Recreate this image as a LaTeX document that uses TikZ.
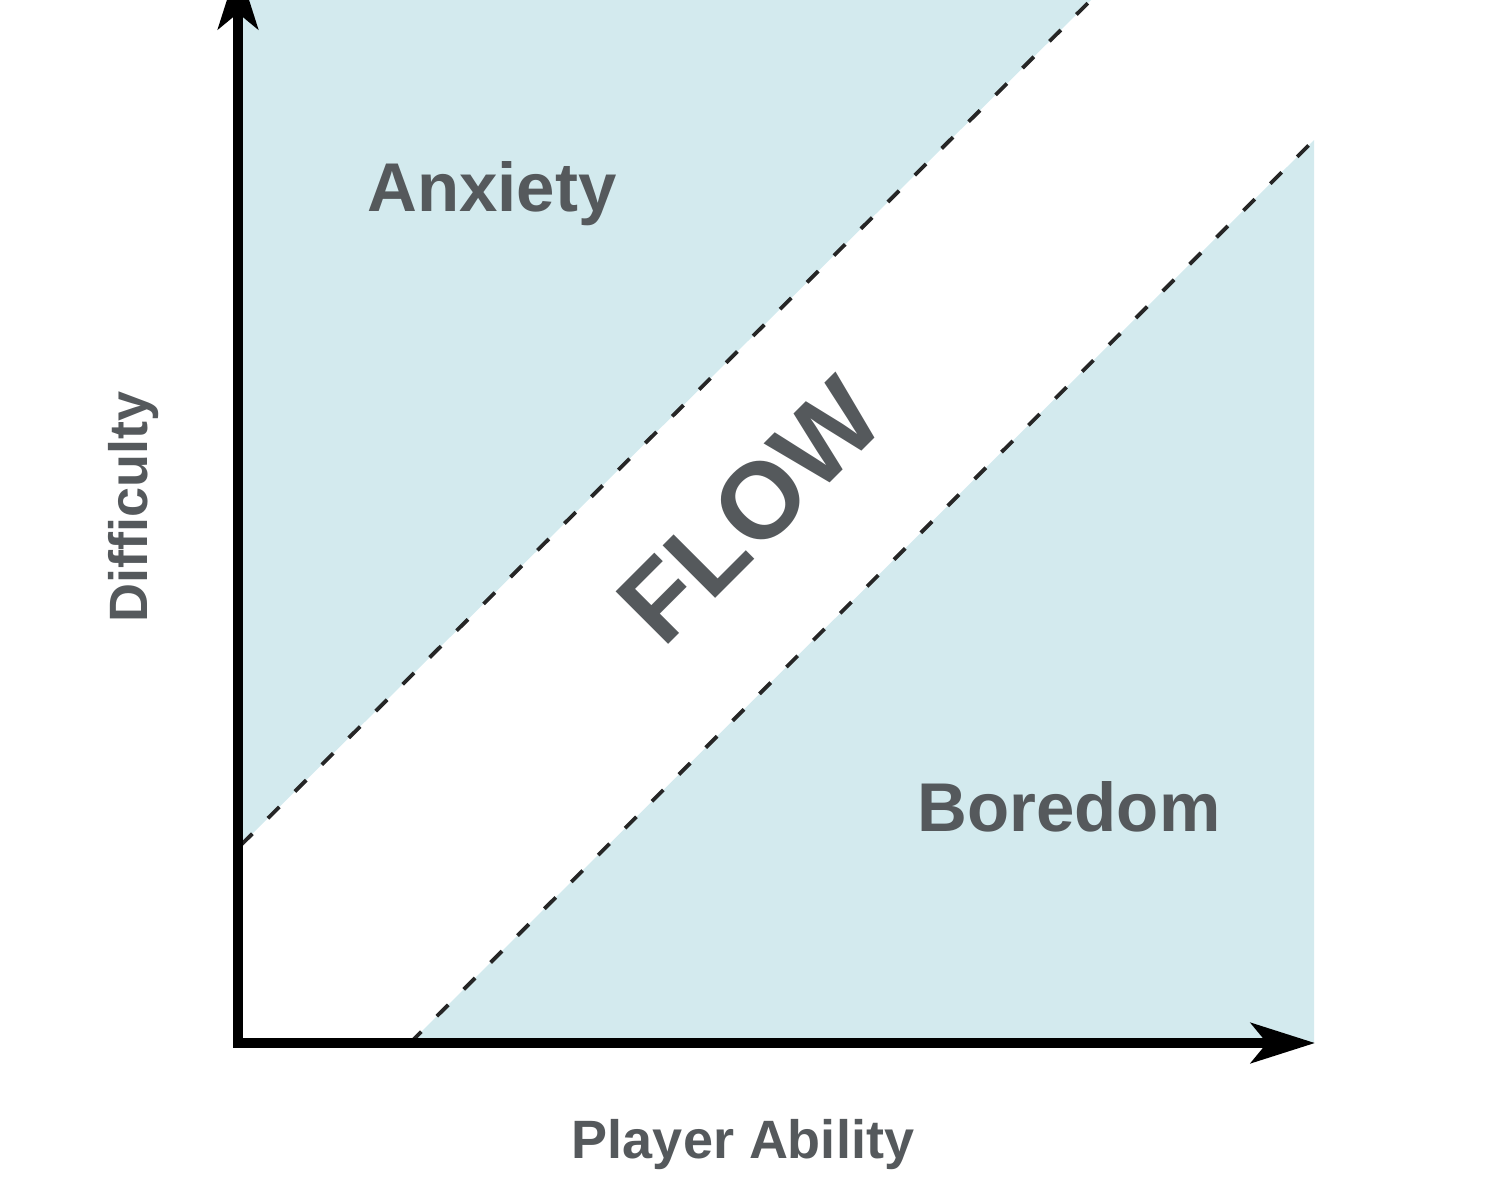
\documentclass[tikz,border=0pt]{standalone}
\usepackage{fontspec}
\setmainfont{Liberation Sans}
\usetikzlibrary{arrows.meta}
\definecolor{zone}{HTML}{D3EAEE}
\definecolor{txt}{HTML}{55595C}
\begin{document}
\begin{tikzpicture}[x=0.5pt,y=-0.5pt,
  zonefill/.style={fill=zone,draw=none},
  boundary/.style={draw=black!85,line width=1.9pt,dash pattern=on 8pt off 11pt},
  axisline/.style={line width=5pt,line join=miter,
    {Stealth[length=32pt,width=20pt,inset=8pt]}-{Stealth[length=32pt,width=20pt,inset=8pt]}},
  zonelabel/.style={text=txt,font=\bfseries\fontsize{34.5}{40}\selectfont,inner sep=0pt,anchor=base},
  axislabel/.style={text=txt,font=\bfseries\fontsize{27}{32}\selectfont,inner sep=0pt,anchor=base},
  flowlabel/.style={text=txt,font=\bfseries\fontsize{54}{60}\selectfont,inner sep=0pt,rotate=45}]
\useasboundingbox (0,0) rectangle (1497,1200);
% key points
\coordinate (O) at (238,1043);
\coordinate (ytop) at (238,-35);
\coordinate (xend) at (1315,1043);
\coordinate (ua) at (241,845);
\coordinate (ub) at (1093,-2);
\coordinate (la) at (410,1043);
\coordinate (lb) at (1314,140);
% shaded zones
\fill[zonefill] (241,-5) -- (ua) -- (ub) -- (1097,-5) -- cycle;
\fill[zonefill] (la) -- (lb) -- (1314,1043) -- cycle;
% boundaries
\draw[boundary] (ua) -- (ub);
\draw[boundary] (la) -- (lb);
% axes
\draw[axisline] (ytop) -- (O) -- (xend);
% labels
\node[zonelabel] (anx) at (492,211) {Anxiety};
\node[zonelabel] (bor) at (1069,831) {Boredom};
\node[flowlabel] (flow) at (750,511) {FLOW};
\node[axislabel] (xl) at (743,1158) {Player Ability};
\node[axislabel,rotate=90] (yl) at (147,507) {Difficulty};
\end{tikzpicture}
\end{document}
